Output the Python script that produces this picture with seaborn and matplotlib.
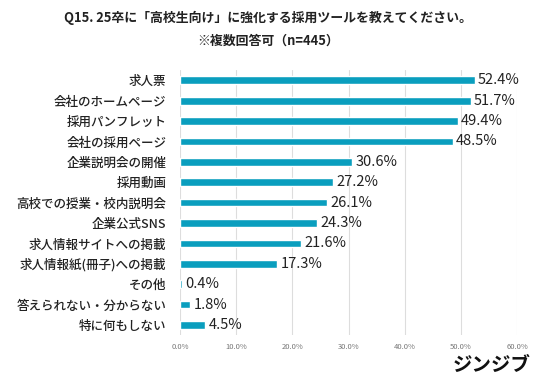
import matplotlib
matplotlib.use("Agg")
import matplotlib.pyplot as plt
import seaborn as sns
import pandas as pd
from matplotlib.ticker import FuncFormatter

categories = [
    "求人票", "会社のホームページ", "採用パンフレット", "会社の採用ページ",
    "企業説明会の開催", "採用動画", "高校での授業・校内説明会", "企業公式SNS",
    "求人情報サイトへの掲載", "求人情報紙(冊子)への掲載", "その他",
    "答えられない・分からない", "特に何もしない",
]
values = [52.4, 51.7, 49.4, 48.5, 30.6, 27.2, 26.1, 24.3, 21.6, 17.3, 0.4, 1.8, 4.5]
xticks = [0, 10, 20, 30, 40, 50, 60]

sns.set_theme(style="white")
plt.rcParams["font.family"] = ["Noto Sans CJK JP", "DejaVu Sans"]

df = pd.DataFrame({"item": categories, "pct": values})

fig = plt.figure(figsize=(5.36, 3.87), dpi=100)
ax = fig.add_axes([0.336, 0.134, 0.629, 0.685])

sns.barplot(data=df, x="pct", y="item", color="#0A9EBE", saturation=1,
            width=0.38, ax=ax, zorder=3)

for i, v in enumerate(values):
    ax.text(v + 0.6, i, f"{v:.1f}%", va="center", ha="left",
            fontsize=10.5, color="#222222", zorder=4)

ax.set_xlim(0, 60)
ax.set_xticks(xticks)
ax.xaxis.set_major_formatter(FuncFormatter(lambda x, _: f"{x:.1f}%"))
ax.tick_params(axis="x", labelsize=5.5, colors="#777777", length=0, pad=6)
ax.tick_params(axis="y", labelsize=9, length=0, pad=10, colors="#222222")
for lab in ax.get_yticklabels():
    lab.set_fontweight("medium")
ax.grid(axis="x", color="#dddddd", linewidth=0.8, zorder=0)
ax.set_xlabel("")
ax.set_ylabel("")
for s in ax.spines.values():
    s.set_visible(False)

fig.text(0.5, 0.955, "Q15. 25卒に「高校生向け」に強化する採用ツールを教えてください。",
         ha="center", va="center", fontsize=9.3, fontweight="bold", color="#222222")
fig.text(0.5, 0.895, "※複数回答可（n=445）",
         ha="center", va="center", fontsize=9.3, fontweight="bold", color="#222222")
fig.text(0.99, 0.055, "ジンジブ", ha="right", va="center",
         fontsize=14, fontweight="bold", color="#111111")

fig.savefig("out.png", dpi=100)
